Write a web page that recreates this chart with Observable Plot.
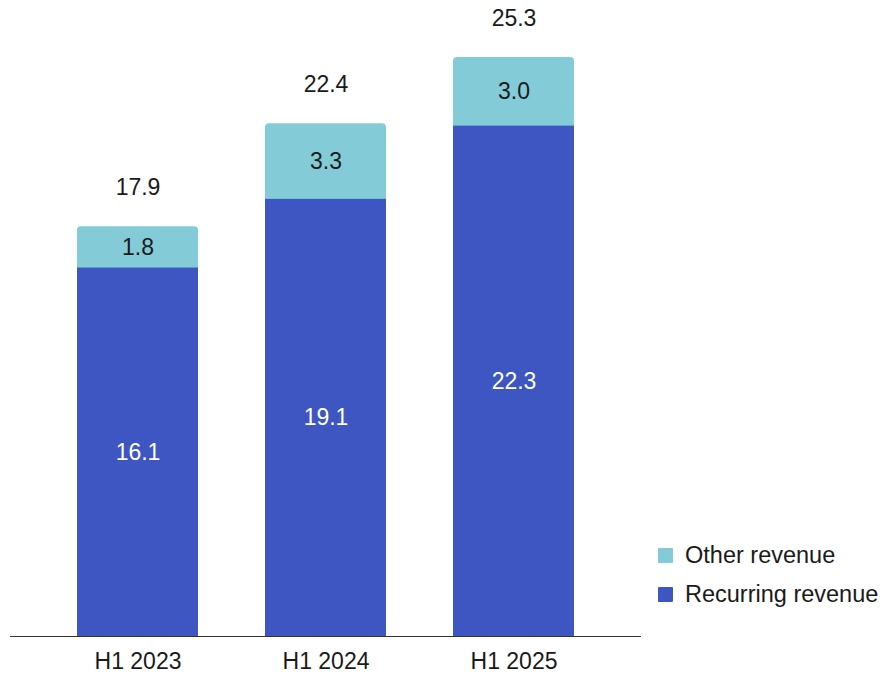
<!DOCTYPE html>
<html><head><meta charset="utf-8">
<script src="https://cdn.jsdelivr.net/npm/d3@7"></script>
<script src="https://cdn.jsdelivr.net/npm/@observablehq/plot@0.6"></script>
<style>
body{margin:0;background:#fff;font-family:"Liberation Sans",Arial,sans-serif;}
#wrap{position:relative;width:884px;height:673px;}
#legend{position:absolute;left:658px;top:536px;font-size:23.5px;color:#1a1a1a;}
#legend div{display:flex;align-items:center;height:39px;}
#legend span.sw{display:inline-block;width:15px;height:15px;margin-right:12px;border-radius:1px;}
</style></head>
<body><div id="wrap"><div id="chart"></div><div id="legend"></div></div>
<script>
const periods = ["H1 2023", "H1 2024", "H1 2025"];
const recurring = [16.1, 19.1, 22.3];
const other = [1.8, 3.3, 3.0];
const totals = [17.9, 22.4, 25.3];
const seriesNames = ["Other revenue", "Recurring revenue"];
const seriesColors = ["#82cbd7", "#3d56c1"];

const rows = periods.map((p, i) => ({period: p, rec: recurring[i], oth: other[i], tot: totals[i]}));

const chart = Plot.plot({
  width: 884, height: 673,
  marginTop: 57, marginBottom: 37, marginLeft: 10, marginRight: 243,
  style: {fontFamily: "'Liberation Sans', Arial, sans-serif", fontSize: "23px", color: "#1a1a1a", background: "#fff"},
  x: {domain: periods, padding: 0.356, align: 0.5, label: null},
  y: {domain: [0, 25.3], axis: null},
  marks: [
    Plot.barY(rows, {x: "period", y1: 0, y2: "tot", fill: seriesColors[0], rx: 4}),
    Plot.barY(rows, {x: "period", y1: 0, y2: "rec", fill: seriesColors[1]}),
    Plot.text(rows, {x: "period", y: d => d.rec / 2, text: d => d.rec.toFixed(1), fill: "#fff", fontSize: 23}),
    Plot.text(rows, {x: "period", y: d => d.rec + d.oth / 2, text: d => d.oth.toFixed(1), fill: "#1a1a1a", fontSize: 23}),
    Plot.text(rows, {x: "period", y: "tot", dy: -39, text: d => d.tot.toFixed(1), fill: "#1a1a1a", fontSize: 23}),
    Plot.axisX({fontSize: 23, tickSize: 0, tickPadding: 16, fill: "#1a1a1a"}),
    Plot.ruleY([0], {stroke: "#333", strokeWidth: 1})
  ]
});
document.getElementById("chart").appendChild(chart);
const lg = document.getElementById("legend");
seriesNames.forEach((n, i) => {
  const d = document.createElement("div");
  d.innerHTML = `<span class="sw" style="background:${seriesColors[i]}"></span>${n}`;
  lg.appendChild(d);
});
</script></body></html>
